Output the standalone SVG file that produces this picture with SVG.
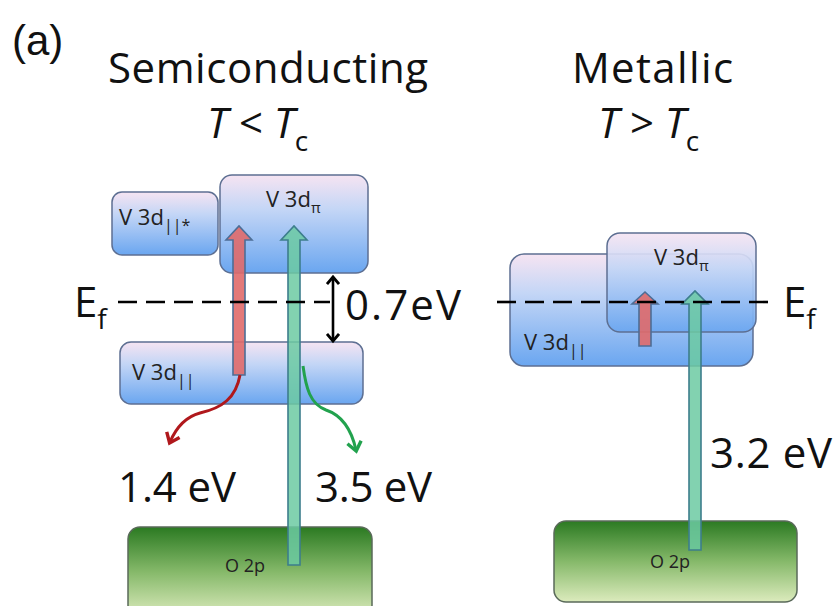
<svg xmlns="http://www.w3.org/2000/svg" width="836" height="606" viewBox="0 0 836 606">
<defs>
  <linearGradient id="blue" x1="0" y1="0" x2="0" y2="1">
    <stop offset="0" stop-color="#f6e4f2"/>
    <stop offset="0.35" stop-color="#c4d6f6"/>
    <stop offset="1" stop-color="#6aa6f0"/>
  </linearGradient>
  <linearGradient id="green" x1="0" y1="0" x2="0" y2="1">
    <stop offset="0" stop-color="#2b7a22"/>
    <stop offset="0.5" stop-color="#86b96a"/>
    <stop offset="1" stop-color="#dcebbd"/>
  </linearGradient>
  <marker id="chev" viewBox="0 0 14 14" refX="11" refY="7" markerWidth="14" markerHeight="14" markerUnits="userSpaceOnUse" orient="auto-start-reverse">
    <path d="M4,1 L11,7 L4,13" fill="none" stroke="#000" stroke-width="2.8"/>
  </marker>
  <marker id="redhead" viewBox="0 0 18 18" refX="10" refY="9" markerWidth="18" markerHeight="18" markerUnits="userSpaceOnUse" orient="auto">
    <path d="M2,2 L11,9 L2,16" fill="none" stroke="#b0181c" stroke-width="3.4"/>
  </marker>
  <marker id="greenhead" viewBox="0 0 18 18" refX="10" refY="9" markerWidth="18" markerHeight="18" markerUnits="userSpaceOnUse" orient="auto">
    <path d="M2,2 L11,9 L2,16" fill="none" stroke="#22a24e" stroke-width="3.4"/>
  </marker>
</defs>
<style>
  .band { fill: url(#blue); stroke: #5d6f92; stroke-width: 1.5; }
  .o2p { fill: url(#green); stroke: #5a6a5a; stroke-width: 1.5; }
  .lbl { font-family: "Open Sans", "Liberation Sans", sans-serif; fill: #222; }
  .big { font-family: "Open Sans", "Liberation Sans", sans-serif; fill: #111; font-size: 42px; }
  .ef { stroke: #000; stroke-width: 2.6; stroke-dasharray: 19 9; fill: none; }
  .redarr { fill: #e06a6a; fill-opacity: 0.9; stroke: #4d6e96; stroke-width: 1.6; }
  .grnarr { fill: #6ccaa2; fill-opacity: 0.85; stroke: #3d7e8c; stroke-width: 1.6; }
</style>
<rect width="836" height="606" fill="#fff"/>

<g id="titles">
  <text x="12" y="55" font-family="Liberation Sans, Arial, sans-serif" font-size="42" fill="#111">(a)</text>
  <text class="big" x="108" y="83" textLength="320">Semiconducting</text>
  <text class="big" x="207" y="138" font-style="italic">T<tspan font-style="normal"> &lt; </tspan>T<tspan font-style="normal" font-size="28" dy="13">c</tspan></text>
  <text class="big" x="572" y="83" textLength="161">Metallic</text>
  <text class="big" x="598" y="138" font-style="italic">T<tspan font-style="normal"> &gt; </tspan>T<tspan font-style="normal" font-size="28" dy="13">c</tspan></text>
</g>

<!-- Left (semiconducting) -->
<g id="L_V3dpar_star">
  <rect class="band" x="112" y="192" width="106" height="63" rx="10"/>
  <text class="lbl" x="119" y="225" font-size="22">V 3d<tspan font-size="16" dy="6">||*</tspan></text>
</g>
<g id="L_V3dpi">
  <rect class="band" x="220" y="175" width="148" height="98" rx="12"/>
  <text class="lbl" x="266" y="207" font-size="22">V 3d<tspan font-size="15" dy="6">π</tspan></text>
</g>
<g id="L_V3dpar">
  <rect class="band" x="120" y="342" width="243" height="62" rx="11"/>
  <text class="lbl" x="132" y="380" font-size="22">V 3d<tspan font-size="16" dy="6">||</tspan></text>
</g>
<g id="L_O2p">
  <rect class="o2p" x="128" y="527" width="244" height="90" rx="12"/>
  <text class="lbl" x="225" y="572" font-size="18">O 2p</text>
</g>

<!-- Right (metallic) -->
<g id="R_V3dpar">
  <rect class="band" x="510" y="254" width="243" height="112" rx="14"/>
  <text class="lbl" x="524" y="350" font-size="22">V 3d<tspan font-size="16" dy="6">||</tspan></text>
</g>
<g id="R_V3dpi">
  <rect class="band" x="607" y="233" width="149" height="99" rx="13" fill-opacity="0.92"/>
  <text class="lbl" x="654" y="265" font-size="22">V 3d<tspan font-size="15" dy="6">π</tspan></text>
</g>
<g id="R_O2p">
  <rect class="o2p" x="554" y="521" width="243" height="81" rx="12"/>
  <text class="lbl" x="650" y="568" font-size="18">O 2p</text>
</g>

<g id="connectors">
  <!-- left transitions -->
  <polygon class="redarr" points="233,375 233,240 226,240 239,226 252,240 245,240 245,375"/>
  <polygon class="grnarr" points="288,565 288,240 281,240 294,226 307,240 300,240 300,565"/>
  <path d="M240,375 C236,398 222,408 200,413 C185,417 176,428 170,442" fill="none" stroke="#b0181c" stroke-width="3" marker-end="url(#redhead)"/>
  <path d="M303,366 C306,388 310,404 326,410 C344,416 352,432 356,450" fill="none" stroke="#22a24e" stroke-width="3" marker-end="url(#greenhead)"/>
  <line x1="333" y1="277" x2="333" y2="341" stroke="#000" stroke-width="2.6" marker-start="url(#chev)" marker-end="url(#chev)"/>
  <!-- right transitions -->
  <polygon class="redarr" points="639,346 639,304 632,304 645,292 658,304 651,304 651,346"/>
  <polygon class="grnarr" points="689,550 689,304 682,304 695,291 708,304 701,304 701,550"/>
  <!-- Fermi levels -->
  <line class="ef" x1="118" y1="302" x2="330" y2="302"/>
  <line class="ef" x1="497" y1="302" x2="772" y2="302"/>
</g>

<g id="labels">
  <text class="big" x="74" y="317">E<tspan font-size="28" dy="12">f</tspan></text>
  <text class="big" x="783" y="317">E<tspan font-size="28" dy="12">f</tspan></text>
  <text class="big" x="345" y="320" textLength="116">0.7eV</text>
  <text class="big" x="118" y="502" textLength="118">1.4 eV</text>
  <text class="big" x="315" y="502" textLength="117">3.5 eV</text>
  <text class="big" x="710" y="468" textLength="122">3.2 eV</text>
</g>
</svg>
